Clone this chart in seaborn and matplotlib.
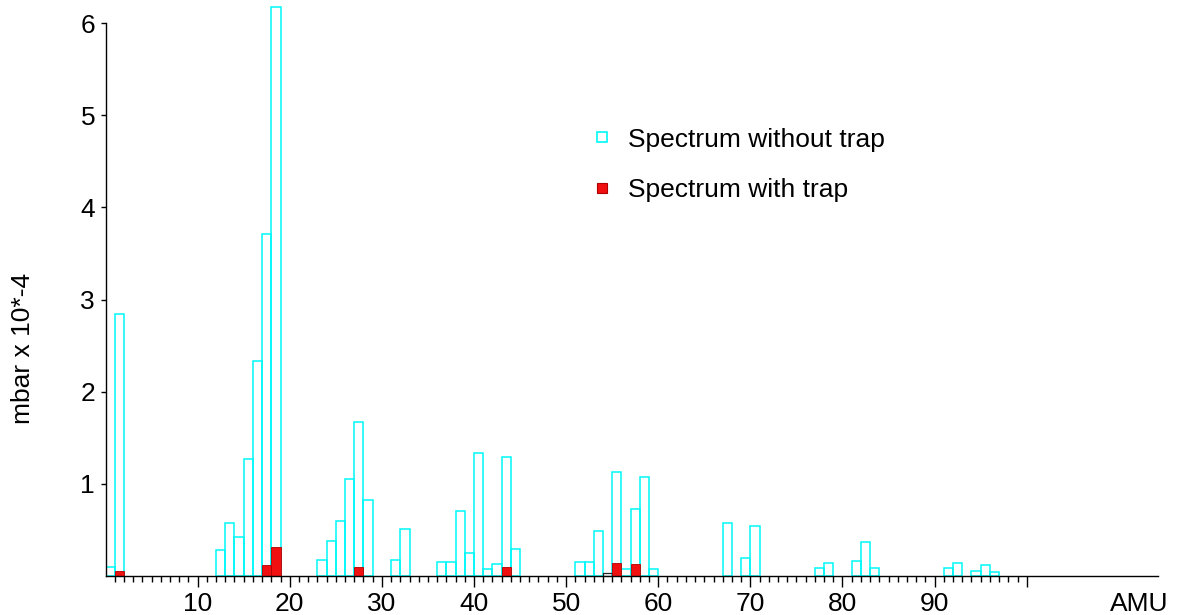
import numpy
import pandas
import seaborn
import matplotlib
matplotlib.use("Agg")
import matplotlib.pyplot as plt
from matplotlib.ticker import FixedLocator
from matplotlib.lines import Line2D

# mass number (left edge of each 1 AMU bin) and partial pressure in mbar x 10^-4
amu_without = [0, 1, 12, 13, 14, 15, 16, 17, 18, 23, 24, 25, 26, 27, 28, 31, 32,
               36, 37, 38, 39, 40, 41, 42, 43, 44, 51, 52, 53, 55, 56, 57, 58, 59,
               67, 69, 70, 77, 78, 81, 82, 83, 91, 92, 94, 95, 96]
mbar_without = [0.10, 2.84, 0.28, 0.58, 0.42, 1.27, 2.33, 3.71, 6.18, 0.17, 0.38, 0.60, 1.05, 1.67, 0.83, 0.17, 0.51,
                0.15, 0.15, 0.71, 0.25, 1.34, 0.08, 0.13, 1.29, 0.29, 0.15, 0.15, 0.49, 1.13, 0.08, 0.73, 1.07, 0.08,
                0.58, 0.19, 0.54, 0.09, 0.14, 0.16, 0.37, 0.09, 0.09, 0.14, 0.05, 0.12, 0.04]

amu_with = [1, 17, 18, 27, 43, 55, 57]
mbar_with = [0.05, 0.12, 0.32, 0.10, 0.10, 0.14, 0.13]

# small dark bar next to the 55 peak
amu_other = [54]
mbar_other = [0.035]

x_ticks = [10, 20, 30, 40, 50, 60, 70, 80, 90, 100]
x_tick_labels = ["10", "20", "30", "40", "50", "60", "70", "80", "90", ""]
y_ticks = [1, 2, 3, 4, 5, 6]

CYAN = "#00f8f8"
RED = "#f01010"
DARK_RED = "#b00000"

seaborn.set_style("ticks")
plt.rcParams["font.family"] = ["Liberation Sans", "DejaVu Sans"]
plt.rcParams["text.color"] = "black"
plt.rcParams["axes.labelcolor"] = "black"
plt.rcParams["xtick.color"] = "black"
plt.rcParams["ytick.color"] = "black"

fig = plt.figure(figsize=(11.81, 6.15), dpi=100)
ax = fig.add_axes([105.5 / 1181, 39 / 615, 1052.5 / 1181, 575 / 615])

without = pandas.DataFrame({"amu": amu_without, "mbar": mbar_without})
withtrap = pandas.DataFrame({"amu": amu_with, "mbar": mbar_with})
other = pandas.DataFrame({"amu": amu_other, "mbar": mbar_other})

# one bin per AMU, edges on the integers
hist_kws = dict(x="amu", weights="mbar", binwidth=1, binrange=(0, 97), ax=ax)

seaborn.histplot(data=without, fill=False, color=CYAN, linewidth=1.1, zorder=2, **hist_kws)
seaborn.histplot(data=other, fill=False, color="#222222", linewidth=0.9, zorder=2, **hist_kws)
seaborn.histplot(data=withtrap, fill=True, color=RED, alpha=1, edgecolor=DARK_RED,
                 linewidth=0.6, zorder=3, **hist_kws)

# empty bins would draw along the baseline, drop them
for bar in list(ax.patches):
    if bar.get_height() == 0:
        bar.remove()

ax.set_xlim(0, 114.25)
ax.set_ylim(0, 6.24)

ax.xaxis.set_major_locator(FixedLocator(x_ticks))
ax.xaxis.set_minor_locator(FixedLocator(list(range(1, 100))))
ax.set_xticklabels(x_tick_labels)
ax.set_yticks(y_ticks)
ax.set_yticklabels([str(t) for t in y_ticks])

ax.tick_params(axis="x", which="major", length=8, width=1, labelsize=19, pad=3.5)
ax.tick_params(axis="x", which="minor", length=4, width=1)
ax.tick_params(axis="y", which="major", length=3.5, width=1, labelsize=19, pad=4)

seaborn.despine(ax=ax)
ax.spines["left"].set_bounds(0, 6)
for side in ["left", "bottom"]:
    ax.spines[side].set_linewidth(1.0)
    ax.spines[side].set_color("black")
    ax.spines[side].set_zorder(5)

ax.set_ylabel("mbar x 10*-4", fontsize=19, va="center")
ax.yaxis.set_label_coords(-0.0784, 0.3965)
ax.set_xlabel("AMU", fontsize=19, va="center")
ax.xaxis.set_label_coords(0.982, -0.0487)

handles = [
    Line2D([], [], marker="s", linestyle="none", markersize=7, markerfacecolor="white",
           markeredgecolor=CYAN, markeredgewidth=1.2, label="Spectrum without trap"),
    Line2D([], [], marker="s", linestyle="none", markersize=7, markerfacecolor=RED,
           markeredgecolor=DARK_RED, markeredgewidth=0.8, label="Spectrum with trap"),
]
ax.legend(handles=handles, loc="center left", bbox_to_anchor=(0.4618, 0.715),
          frameon=False, fontsize=19, borderpad=0, borderaxespad=0,
          handlelength=0.8, handletextpad=0.6, labelspacing=1.0)

fig.savefig("out.png", dpi=100)
